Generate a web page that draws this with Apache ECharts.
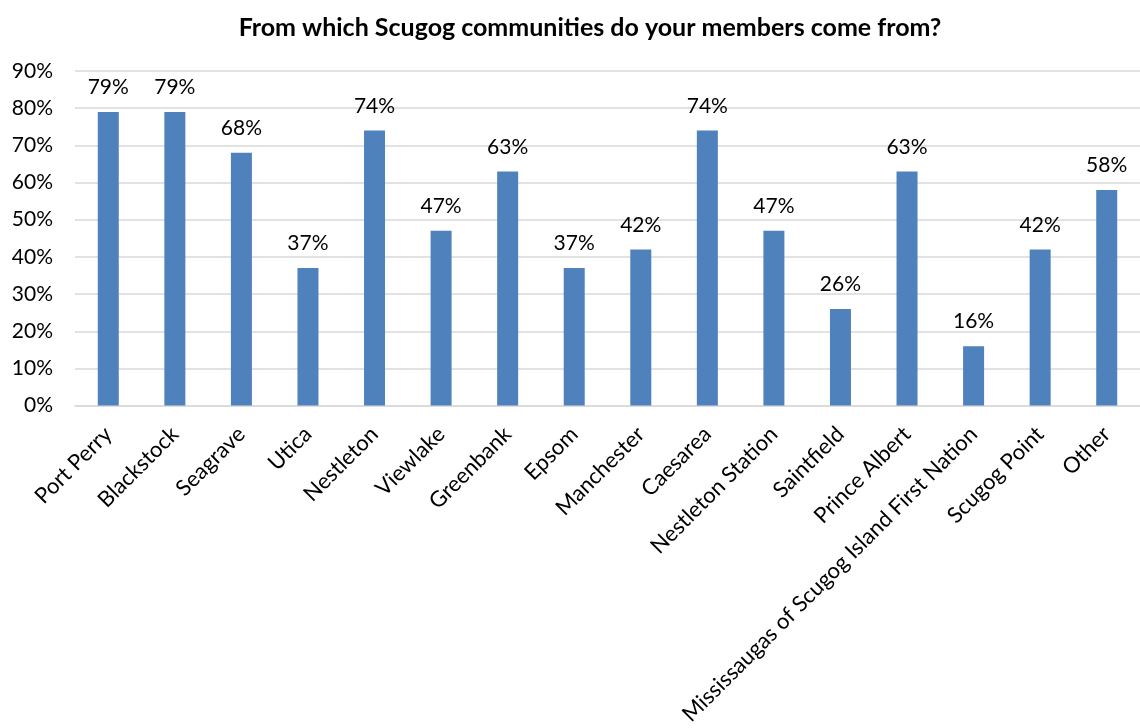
<!DOCTYPE html>
<html>
<head>
<meta charset="utf-8">
<script src="https://cdn.jsdelivr.net/npm/echarts@6/dist/echarts.min.js"></script>
<style>
  html, body { margin: 0; padding: 0; background: #ffffff; }
  #chart { width: 1140px; height: 728px; }
</style>
</head>
<body>
<div id="chart"></div>
<script>
// Communities members come from (share of respondents, %)
const communities = [
  'Port Perry', 'Blackstock', 'Seagrave', 'Utica', 'Nestleton', 'Viewlake',
  'Greenbank', 'Epsom', 'Manchester', 'Caesarea', 'Nestleton Station',
  'Saintfield', 'Prince Albert', 'Mississaugas of Scugog Island First Nation',
  'Scugog Point', 'Other'
];
const shares = [79, 79, 68, 37, 74, 47, 63, 37, 42, 74, 47, 26, 63, 16, 42, 58];
const yTicks = [0, 10, 20, 30, 40, 50, 60, 70, 80, 90];

const FONT = 'Lato, "Open Sans", sans-serif';
const chart = echarts.init(document.getElementById('chart'), null, { renderer: 'canvas' });

chart.setOption({
  animation: false,
  backgroundColor: '#ffffff',
  title: {
    text: 'From which Scugog communities do your members come from?',
    left: 585,
    textAlign: 'center',
    top: 10,
    textStyle: { fontFamily: FONT, fontWeight: 'bold', fontSize: 25, color: '#000000' }
  },
  grid: { left: 75, right: -10, top: 71, bottom: 320, containLabel: false },
  xAxis: {
    type: 'category',
    data: communities,
    axisLine: { show: true, lineStyle: { color: '#d9d9d9', width: 1.5 } },
    axisTick: { show: false },
    axisLabel: {
      interval: 0,
      rotate: 45,
      margin: 25,
      fontFamily: FONT,
      fontSize: 22,
      color: '#000000'
    }
  },
  yAxis: {
    type: 'value',
    min: yTicks[0],
    max: yTicks[yTicks.length - 1],
    interval: 10,
    axisLine: { show: false },
    axisTick: { show: false },
    splitLine: { lineStyle: { color: '#d9d9d9', width: 1.5 } },
    axisLabel: {
      margin: 22,
      fontFamily: FONT,
      fontSize: 21,
      color: '#000000',
      formatter: v => v + '%'
    }
  },
  series: [{
    type: 'bar',
    data: shares,
    barWidth: 21,
    itemStyle: { color: '#4f81bd' },
    label: {
      show: true,
      position: 'top',
      distance: 14,
      fontFamily: FONT,
      fontSize: 21,
      color: '#000000',
      formatter: p => p.value + '%'
    }
  }]
});
</script>
</body>
</html>
